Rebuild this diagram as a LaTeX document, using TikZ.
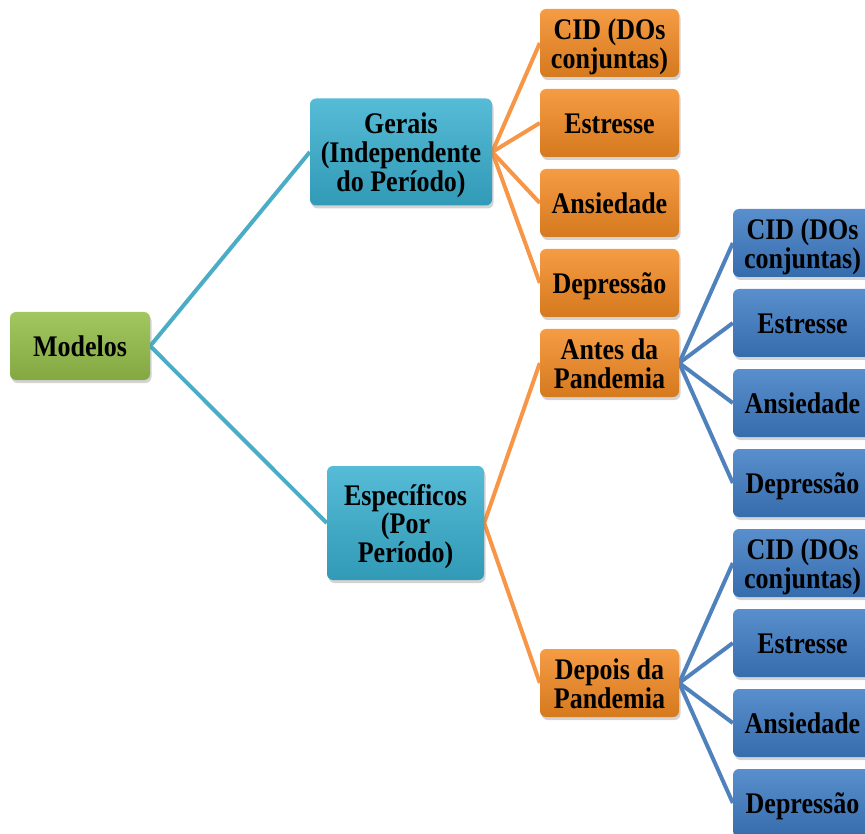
\documentclass[tikz,border=0pt]{standalone}
\usepackage{fontspec}
\setmainfont{Liberation Serif}
\usetikzlibrary{shadows,backgrounds}

\definecolor{gfill}{HTML}{96BF4A}
\definecolor{cfill}{HTML}{38AFCF}
\definecolor{ofill}{HTML}{F38A23}
\definecolor{bfill}{HTML}{3D7BC4}
\definecolor{cline}{HTML}{4BACC6}
\definecolor{oline}{HTML}{F79646}
\definecolor{bline}{HTML}{4F81BD}

% bold text, slightly stretched vertically and set a little low in its box
\newcommand{\boxtext}[1]{\raisebox{-4.5pt}[\height][\depth]{\scalebox{1}[1.15]{%
  \fontsize{26}{23.5}\selectfont\bfseries
  \begin{tabular}{@{}c@{}}#1\end{tabular}}}}

\tikzset{
  box/.style={rounded corners=6pt, align=center, inner sep=2pt,
    drop shadow={opacity=0.35, shadow xshift=1.5pt, shadow yshift=-3pt}},
  greenbox/.style={box, minimum width=140pt, minimum height=68pt,
    top color=gfill!88!white, middle color=gfill, bottom color=gfill!88!black},
  cyanbox/.style={box,
    top color=cfill!85!white, middle color=cfill, bottom color=cfill!88!black},
  orangebox/.style={box, minimum width=139pt, minimum height=68pt,
    top color=ofill!85!white, middle color=ofill, bottom color=ofill!88!black},
  bluebox/.style={box, minimum width=139pt, minimum height=68pt,
    top color=bfill!85!white, middle color=bfill, bottom color=bfill!88!black},
  link/.style={line width=4pt},
}

\begin{document}
\begin{tikzpicture}[x=1pt,y=-1pt]
\useasboundingbox (0,0) rectangle (865,834);
\clip (0,0) rectangle (865,834);

% root
\node[greenbox] (mod) at (80,346) {\boxtext{Modelos}};

% second level
\node[cyanbox, minimum width=182pt, minimum height=107pt] (ger) at (401,152)
  {\boxtext{Gerais\\(Independente\\do Período)}};
\node[cyanbox, minimum width=157pt, minimum height=114pt] (esp) at (405.5,523)
  {\boxtext{Específicos\\(Por\\Período)}};

% general models
\node[orangebox] (g1) at (609.5,43)  {\boxtext{CID (DOs\\conjuntas)}};
\node[orangebox] (g2) at (609.5,123) {\boxtext{Estresse}};
\node[orangebox] (g3) at (609.5,203) {\boxtext{Ansiedade}};
\node[orangebox] (g4) at (609.5,283) {\boxtext{Depressão}};

% periods
\node[orangebox] (ant) at (609.5,363) {\boxtext{Antes da\\Pandemia}};
\node[orangebox] (dep) at (609.5,683) {\boxtext{Depois da\\Pandemia}};

% before the pandemic
\node[bluebox] (a1) at (802.5,243) {\boxtext{CID (DOs\\conjuntas)}};
\node[bluebox] (a2) at (802.5,323) {\boxtext{Estresse}};
\node[bluebox] (a3) at (802.5,403) {\boxtext{Ansiedade}};
\node[bluebox] (a4) at (802.5,483) {\boxtext{Depressão}};

% after the pandemic
\node[bluebox] (d1) at (802.5,563) {\boxtext{CID (DOs\\conjuntas)}};
\node[bluebox] (d2) at (802.5,643) {\boxtext{Estresse}};
\node[bluebox] (d3) at (802.5,723) {\boxtext{Ansiedade}};
\node[bluebox] (d4) at (802.5,803) {\boxtext{Depressão}};

\begin{scope}[on background layer]
  \draw[link, cline] (mod.east) -- (ger.west);
  \draw[link, cline] (mod.east) -- (esp.west);
  \foreach \n in {g1,g2,g3,g4}
    \draw[link, oline] (ger.east) -- (\n.west);
  \draw[link, oline] (esp.east) -- (ant.west);
  \draw[link, oline] (esp.east) -- (dep.west);
  \foreach \n in {a1,a2,a3,a4}
    \draw[link, bline] (ant.east) -- (\n.west);
  \foreach \n in {d1,d2,d3,d4}
    \draw[link, bline] (dep.east) -- (\n.west);
\end{scope}
\end{tikzpicture}
\end{document}
